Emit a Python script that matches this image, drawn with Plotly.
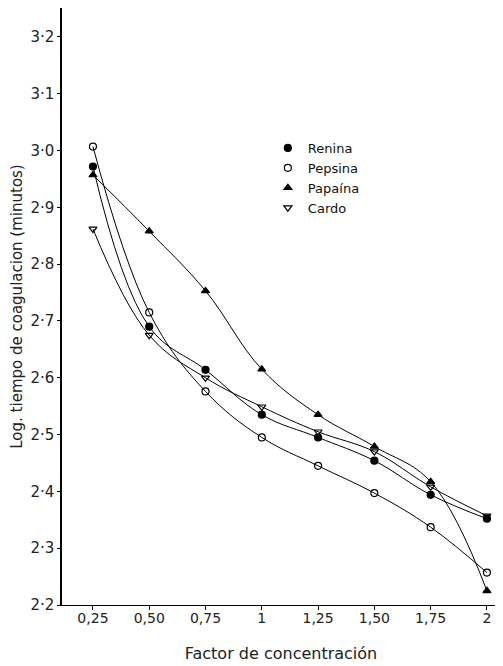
import plotly.graph_objects as go

# Data
factor = [0.25, 0.50, 0.75, 1.00, 1.25, 1.50, 1.75, 2.00]
renina = [2.972, 2.690, 2.614, 2.535, 2.495, 2.454, 2.394, 2.352]
pepsina = [3.007, 2.715, 2.576, 2.495, 2.445, 2.397, 2.337, 2.257]
papaina = [2.957, 2.858, 2.753, 2.615, 2.535, 2.479, 2.417, 2.225]
cardo = [2.862, 2.675, 2.600, 2.549, 2.505, 2.470, 2.408, 2.357]

x_tick_vals = [0.25, 0.50, 0.75, 1.00, 1.25, 1.50, 1.75, 2.00]
x_tick_text = ["0,25", "0,50", "0,75", "1", "1,25", "1,50", "1,75", "2"]
y_tick_vals = [2.2, 2.3, 2.4, 2.5, 2.6, 2.7, 2.8, 2.9, 3.0, 3.1, 3.2]
y_tick_text = ["2·2", "2·3", "2·4", "2·5", "2·6", "2·7", "2·8", "2·9", "3·0", "3·1", "3·2"]

series = [
    ("Renina", renina, "circle"),
    ("Pepsina", pepsina, "circle-open"),
    ("Papaína", papaina, "triangle-up"),
    ("Cardo", cardo, "triangle-down-open"),
]

fig = go.Figure()
for name, vals, sym in series:
    # smooth connecting curve (no legend entry)
    fig.add_trace(go.Scatter(
        x=factor, y=vals, name=name, legendgroup=name, showlegend=False,
        mode="lines", hoverinfo="skip",
        line=dict(color="black", width=1, shape="spline", smoothing=1.1),
    ))
    # markers (legend shows only the symbol)
    fig.add_trace(go.Scatter(
        x=factor, y=vals, name=name, legendgroup=name, showlegend=True,
        mode="markers",
        marker=dict(symbol=sym, size=7, color="black",
                    line=dict(color="black", width=1.2)),
    ))

font_family = "DejaVu Sans, Liberation Sans, Arial, sans-serif"

fig.update_layout(
    width=495, height=658,
    margin=dict(l=54, r=3, t=0, b=61),
    paper_bgcolor="white", plot_bgcolor="white",
    font=dict(family=font_family, color="#111", size=14),
    showlegend=True,
    legend=dict(
        x=0.470, y=0.7906, xanchor="left", yanchor="top",
        bgcolor="rgba(0,0,0,0)", borderwidth=0,
        font=dict(size=13, family=font_family, color="#111"),
        itemwidth=30, tracegroupgap=0,
    ),
    xaxis=dict(
        range=[0.1126, 2.058],
        tickvals=x_tick_vals, ticktext=x_tick_text,
        ticks="outside", ticklen=4, tickwidth=1, tickcolor="black",
        showline=True, linecolor="black", linewidth=1.3,
        showgrid=False, zeroline=False, automargin=False,
        ticklabelstandoff=-4,
        tickfont=dict(size=14, family=font_family, color="#222"),
        title=dict(text="Factor de concentración",
                   font=dict(size=16, family=font_family, color="#222"),
                   standoff=22),
    ),
    yaxis=dict(
        range=[2.2, 3.251],
        tickvals=y_tick_vals, ticktext=y_tick_text,
        ticks="outside", ticklen=3, tickwidth=1, tickcolor="black",
        showline=True, linecolor="black", linewidth=1.5,
        showgrid=False, zeroline=False, automargin=False,
        tickfont=dict(size=15, family=font_family, color="#222"),
        title=dict(text="Log. tiempo de coagulacion (minutos)",
                   font=dict(size=15, family=font_family, color="#222"),
                   standoff=9),
    ),
)

fig.write_html("out.html")
